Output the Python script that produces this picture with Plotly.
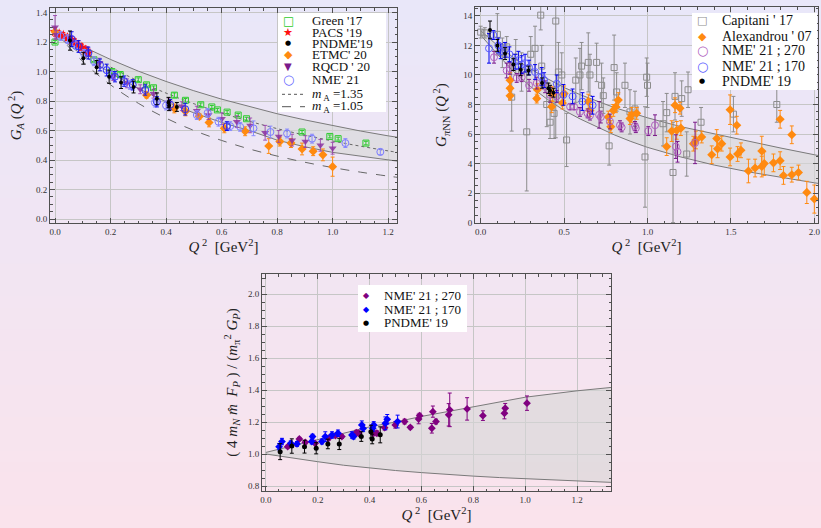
import plotly.graph_objects as go

# ---------------- Panel 1 : G_A(Q^2) ----------------
band1_q = [0.0, 0.1, 0.2, 0.3, 0.4, 0.5, 0.6, 0.7, 0.8, 0.9, 1.0, 1.1, 1.2, 1.232]
band1_hi = [1.27, 1.170, 1.082, 1.003, 0.933, 0.870, 0.813, 0.761, 0.714, 0.672, 0.633, 0.597, 0.564, 0.555]
band1_lo = [1.25, 1.11, 0.99, 0.885, 0.795, 0.72, 0.655, 0.60, 0.535, 0.49, 0.452, 0.425, 0.40, 0.393]

dip135_g = [1.27, 1.141, 1.031, 0.936, 0.854, 0.782, 0.719, 0.663, 0.613, 0.569, 0.529, 0.494, 0.462, 0.453]
dip105_g = [1.27, 1.068, 0.910, 0.785, 0.684, 0.601, 0.533, 0.475, 0.427, 0.385, 0.349, 0.318, 0.291, 0.283]

green_q = [0.0, 0.14, 0.205, 0.235, 0.30, 0.33, 0.355, 0.43, 0.47, 0.525, 0.565, 0.585, 0.62, 0.66, 0.69, 0.89, 0.99, 1.02, 1.12]
green_g = [1.20, 1.08, 1.00, 0.98, 0.945, 0.91, 0.89, 0.84, 0.805, 0.775, 0.76, 0.74, 0.725, 0.705, 0.68, 0.59, 0.56, 0.545, 0.515]
green_e = [0.01, 0.012, 0.012, 0.012, 0.012, 0.012, 0.012, 0.015, 0.012, 0.012, 0.01, 0.01, 0.01, 0.01, 0.01, 0.01, 0.01, 0.01, 0.012]

pacs_q = [0.0, 0.015, 0.03, 0.045, 0.06, 0.072, 0.084, 0.097, 0.11, 0.12]
pacs_g = [1.27, 1.255, 1.245, 1.23, 1.215, 1.20, 1.18, 1.165, 1.145, 1.125]
pacs_e = [0.03, 0.02, 0.02, 0.02, 0.02, 0.02, 0.02, 0.02, 0.02, 0.02]

pndme1_q = [0.054, 0.102, 0.150, 0.195, 0.238, 0.283, 0.367, 0.409, 0.411, 0.439]
pndme1_g = [1.21, 1.09, 1.03, 0.965, 0.925, 0.895, 0.815, 0.79, 0.77, 0.76]
pndme1_e = [0.065, 0.04, 0.045, 0.045, 0.04, 0.04, 0.04, 0.035, 0.035, 0.03]

etmc_q = [0.0, 0.33, 0.43, 0.47, 0.52, 0.555, 0.61, 0.685, 0.77, 0.81, 0.85, 0.89, 0.93, 0.965, 1.0]
etmc_g = [1.27, 0.84, 0.75, 0.73, 0.695, 0.655, 0.615, 0.595, 0.495, 0.525, 0.515, 0.475, 0.46, 0.435, 0.355]
etmc_e = [0.02, 0.02, 0.03, 0.03, 0.02, 0.03, 0.03, 0.03, 0.05, 0.03, 0.03, 0.04, 0.03, 0.04, 0.065]

rqcd_q = [0.0, 0.005, 0.06, 0.117, 0.16, 0.21, 0.259, 0.307, 0.355, 0.41, 0.457, 0.511, 0.553, 0.601, 0.655, 0.703, 0.757, 0.806, 0.854, 0.902, 0.956, 1.0]
rqcd_g = [1.30, 1.25, 1.21, 1.14, 1.06, 0.97, 0.92, 0.88, 0.85, 0.79, 0.765, 0.735, 0.705, 0.68, 0.66, 0.635, 0.585, 0.56, 0.535, 0.525, 0.50, 0.48]
rqcd_e = [0.08, 0.03, 0.03, 0.03, 0.03, 0.03, 0.03, 0.03, 0.03, 0.03, 0.03, 0.03, 0.03, 0.04, 0.04, 0.05, 0.05, 0.04, 0.04, 0.04, 0.04, 0.04]

nmeA_q = [0.06, 0.085, 0.12, 0.162, 0.186, 0.216, 0.249, 0.28, 0.325, 0.367, 0.415, 0.469, 0.619]
nmeA_g = [1.22, 1.17, 1.125, 1.045, 1.01, 0.965, 0.935, 0.91, 0.875, 0.795, 0.775, 0.745, 0.63]
nmeA_e = [0.05, 0.04, 0.04, 0.04, 0.04, 0.035, 0.035, 0.035, 0.035, 0.035, 0.035, 0.04, 0.03]

nmeB_q = [0.02, 0.045, 0.075, 0.105, 0.14, 0.2, 0.27, 0.36, 0.40, 0.511, 0.55, 0.589, 0.631, 0.667, 0.715, 0.776, 0.836, 0.926, 1.046, 1.172]
nmeB_g = [1.24, 1.22, 1.18, 1.12, 1.07, 0.98, 0.91, 0.79, 0.77, 0.705, 0.72, 0.66, 0.63, 0.625, 0.615, 0.59, 0.58, 0.545, 0.515, 0.455]
nmeB_e = [0.03, 0.03, 0.03, 0.03, 0.03, 0.03, 0.03, 0.03, 0.03, 0.03, 0.03, 0.03, 0.03, 0.03, 0.05, 0.04, 0.03, 0.03, 0.03, 0.02]

# ---------------- Panel 2 : G_piNN(Q^2) ----------------
band2_q = [0.0, 0.1, 0.2, 0.3, 0.4, 0.5, 0.6, 0.7, 0.8, 0.9, 1.0, 1.2, 1.4, 1.6, 1.8, 2.0, 2.022]
band2_hi = [13.0, 12.0, 11.15, 10.4, 9.75, 9.15, 8.65, 8.2, 7.8, 7.45, 7.1, 6.5, 6.0, 5.5, 5.05, 4.6, 4.55]
band2_lo = [12.7, 11.4, 10.2, 9.2, 8.35, 7.6, 7.0, 6.45, 5.95, 5.5, 5.1, 4.45, 3.9, 3.45, 3.05, 2.7, 2.66]

cap_q = [0.0, 0.025, 0.10, 0.13, 0.156, 0.186, 0.21, 0.245, 0.276, 0.30, 0.326, 0.36, 0.366, 0.396, 0.416, 0.44, 0.45, 0.466, 0.486, 0.515, 0.57, 0.595, 0.605, 0.645, 0.655, 0.695, 0.725, 0.735, 0.77, 0.80, 0.815, 0.865, 0.895, 0.925, 0.985, 0.995, 1.0, 1.093, 1.115, 1.153, 1.165, 1.205, 1.235, 1.243, 1.321, 1.515, 1.775]
cap_g = [12.9, 12.85, 12.75, 11.5, 11.9, 8.5, 11.2, 10.2, 6.15, 11.4, 11.8, 14.05, 10.6, 8.0, 6.8, 7.4, 13.65, 10.2, 10.0, 5.6, 9.65, 10.0, 10.6, 10.85, 10.0, 10.85, 9.3, 8.6, 5.2, 10.5, 8.85, 9.3, 7.5, 7.7, 4.45, 9.85, 9.3, 6.7, 7.45, 3.4, 8.55, 8.4, 4.65, 9.0, 6.8, 7.35, 8.0]
cap_e = [0.4, 0.35, 1.4, 1.0, 0.7, 2.3, 1.2, 1.3, 4.0, 1.2, 1.5, 1.0, 1.4, 1.5, 1.1, 1.7, 7.9, 2.0, 1.5, 1.8, 1.5, 1.8, 1.6, 2.0, 1.4, 1.3, 1.5, 1.2, 1.3, 2.2, 1.3, 1.5, 1.5, 1.2, 3.4, 1.3, 1.5, 1.5, 1.3, 3.4, 1.6, 1.2, 1.5, 1.2, 1.0, 1.2, 1.2]

alex_q = [0.176, 0.176, 0.176, 0.336, 0.34, 0.426, 0.43, 0.49, 0.50, 0.645, 0.655, 0.765, 0.78, 0.795, 0.81, 0.825, 0.895, 0.905, 0.935, 1.115, 1.145, 1.165, 1.175, 1.195, 1.20, 1.275, 1.29, 1.325, 1.385, 1.415, 1.42, 1.445, 1.495, 1.495, 1.535, 1.54, 1.56, 1.605, 1.645, 1.685, 1.685, 1.70, 1.755, 1.795, 1.795, 1.815, 1.865, 1.865, 1.905, 1.955, 2.0]
alex_g = [9.65, 9.1, 8.6, 8.4, 9.0, 7.85, 8.7, 8.1, 8.75, 8.2, 7.6, 7.15, 6.5, 7.6, 7.85, 8.3, 7.05, 7.3, 7.4, 5.15, 6.2, 7.95, 6.25, 7.75, 6.4, 5.35, 5.6, 5.8, 4.6, 5.7, 5.0, 5.35, 7.65, 4.45, 6.6, 4.65, 4.9, 3.5, 3.7, 4.85, 3.8, 4.0, 4.05, 4.2, 7.0, 3.2, 5.95, 3.25, 3.4, 2.05, 1.6]
alex_e = [0.5, 0.4, 0.3, 0.3, 0.4, 0.4, 0.5, 0.4, 0.5, 0.5, 0.4, 0.4, 0.4, 0.4, 0.4, 0.5, 0.4, 0.5, 0.4, 0.6, 0.7, 0.5, 0.6, 0.4, 0.5, 0.5, 0.6, 0.4, 0.6, 0.6, 0.6, 0.5, 1.0, 0.6, 0.6, 0.5, 0.5, 0.8, 0.6, 1.0, 0.7, 0.8, 0.6, 0.6, 0.6, 0.6, 0.6, 0.5, 0.5, 0.75, 0.95]

n270b_q = [0.08, 0.156, 0.175, 0.216, 0.246, 0.29, 0.336, 0.386, 0.416, 0.456, 0.536, 0.56, 0.595, 0.641, 0.655, 0.71, 0.72, 0.775, 0.835, 0.845, 0.925, 0.93, 1.005, 1.045, 1.17, 1.18, 1.285]
n270b_g = [11.2, 10.3, 10.45, 9.8, 9.85, 9.3, 9.45, 9.2, 8.65, 8.55, 7.85, 7.85, 7.5, 7.4, 7.25, 7.3, 7.15, 6.85, 6.6, 6.45, 6.55, 6.4, 6.2, 6.6, 5.15, 4.8, 5.4]
n270b_e = [0.4, 0.5, 0.4, 0.3, 0.3, 0.4, 0.4, 0.4, 0.5, 0.4, 0.2, 0.2, 0.3, 0.3, 0.3, 0.9, 0.4, 0.5, 0.3, 0.3, 0.3, 0.3, 0.3, 0.7, 0.8, 0.7, 1.4]

n170b_q = [0.05, 0.076, 0.106, 0.12, 0.146, 0.172, 0.206, 0.226, 0.246, 0.266, 0.29, 0.326, 0.366, 0.38, 0.456, 0.496, 0.551, 0.61, 0.671]
n170b_g = [11.8, 12.7, 12.0, 11.6, 11.7, 11.4, 10.9, 11.0, 10.7, 10.8, 10.5, 10.2, 9.9, 9.65, 9.4, 8.65, 8.55, 8.2, 7.95]
n170b_e = [1.0, 0.3, 0.5, 0.5, 0.5, 0.5, 0.5, 0.6, 0.6, 0.6, 0.5, 0.5, 0.6, 0.5, 0.6, 0.7, 0.5, 0.6, 0.6]

pndme2_q = [0.056, 0.10, 0.146, 0.196, 0.24, 0.286, 0.368, 0.406, 0.416, 0.436]
pndme2_g = [13.05, 12.0, 11.45, 10.7, 10.35, 10.3, 9.45, 9.1, 8.95, 8.8]
pndme2_e = [0.6, 0.4, 0.4, 0.4, 0.4, 0.3, 0.35, 0.35, 0.35, 0.3]

# ---------------- Panel 3 : ratio ----------------
band3_q = [0.0, 0.1, 0.2, 0.3, 0.4, 0.5, 0.6, 0.7, 0.8, 0.9, 1.0, 1.1, 1.2, 1.331]
band3_hi = [1.01, 1.05, 1.09, 1.13, 1.17, 1.20, 1.235, 1.265, 1.295, 1.325, 1.355, 1.375, 1.395, 1.416]
band3_lo = [1.00, 0.975, 0.952, 0.93, 0.912, 0.897, 0.884, 0.872, 0.862, 0.853, 0.846, 0.839, 0.832, 0.823]

n270c_q = [0.084, 0.129, 0.152, 0.19, 0.242, 0.268, 0.293, 0.349, 0.358, 0.415, 0.428, 0.458, 0.499, 0.535, 0.557, 0.589, 0.593, 0.64, 0.644, 0.656, 0.705, 0.709, 0.776, 0.837, 0.92, 0.923, 1.007]
n270c_g = [1.046, 1.094, 1.073, 1.067, 1.098, 1.115, 1.109, 1.134, 1.13, 1.13, 1.13, 1.165, 1.182, 1.203, 1.167, 1.219, 1.24, 1.161, 1.265, 1.203, 1.245, 1.276, 1.282, 1.24, 1.255, 1.286, 1.318]
n270c_e = [0.01, 0.01, 0.01, 0.01, 0.012, 0.012, 0.012, 0.015, 0.015, 0.015, 0.015, 0.015, 0.02, 0.015, 0.01, 0.03, 0.015, 0.03, 0.035, 0.015, 0.07, 0.105, 0.07, 0.03, 0.035, 0.03, 0.045]

n170c_q = [0.051, 0.062, 0.096, 0.12, 0.177, 0.18, 0.216, 0.229, 0.255, 0.278, 0.332, 0.338, 0.37, 0.375, 0.412, 0.416, 0.461, 0.468, 0.508]
n170c_g = [1.046, 1.078, 1.067, 1.063, 1.078, 1.109, 1.078, 1.109, 1.119, 1.13, 1.119, 1.109, 1.182, 1.16, 1.161, 1.182, 1.192, 1.217, 1.203]
n170c_e = [0.02, 0.02, 0.015, 0.015, 0.015, 0.015, 0.015, 0.03, 0.02, 0.02, 0.02, 0.015, 0.025, 0.02, 0.02, 0.02, 0.04, 0.03, 0.04]

pndme3_q = [0.055, 0.10, 0.149, 0.194, 0.239, 0.283, 0.368, 0.405, 0.41, 0.441]
pndme3_g = [1.015, 1.05, 1.046, 1.036, 1.063, 1.063, 1.109, 1.14, 1.094, 1.12]
pndme3_e = [0.05, 0.045, 0.04, 0.035, 0.03, 0.035, 0.03, 0.04, 0.03, 0.05]

# legend labels
leg1_names = ["Green '17", "PACS '19", "PNDME'19", "ETMC' 20", "RQCD ' 20", "NME' 21",
              "<i>m</i><sub> A</sub> =1.35", "<i>m</i><sub> A</sub> =1.05"]
leg2_names = ["Capitani ' 17", "Alexandrou ' 07", "NME' 21 ; 270", "NME' 21 ; 170", "PNDME' 19"]
leg3_names = ["NME' 21 ; 270", "NME' 21 ; 170", "PNDME' 19"]

FONT = "Liberation Serif"
GLYPH_FONT = "DejaVu Sans"
W, H = 821, 528

fig = go.Figure()


def band(q, hi, lo, xa, ya):
    fig.add_trace(go.Scatter(x=q, y=hi, mode="lines", line=dict(color="#7a7a7a", width=1),
                             showlegend=False, hoverinfo="skip", xaxis=xa, yaxis=ya))
    fig.add_trace(go.Scatter(x=q, y=lo, mode="lines", line=dict(color="#7a7a7a", width=1),
                             fill="tonexty", fillcolor="rgba(215,215,215,0.62)",
                             showlegend=False, hoverinfo="skip", xaxis=xa, yaxis=ya))


def pts(q, g, e, name, symbol, mcolor, ecolor, size, xa, ya, lw=1):
    fig.add_trace(go.Scatter(
        x=q, y=g, mode="markers", name=name, showlegend=False,
        marker=dict(symbol=symbol, color=mcolor, size=size, line=dict(color=mcolor, width=lw)),
        error_y=dict(type="data", array=e, color=ecolor, thickness=1, width=2),
        xaxis=xa, yaxis=ya))


# Panel 1
band(band1_q, band1_hi, band1_lo, "x", "y")
fig.add_trace(go.Scatter(x=band1_q, y=dip135_g, mode="lines", name="m_A=1.35", showlegend=False,
                         line=dict(color="#666", width=1, dash="dot", shape="spline"), xaxis="x", yaxis="y"))
fig.add_trace(go.Scatter(x=band1_q, y=dip105_g, mode="lines", name="m_A=1.05", showlegend=False,
                         line=dict(color="#666", width=1, dash="dash", shape="spline"), xaxis="x", yaxis="y"))
pts(green_q, green_g, green_e, leg1_names[0], "square-open", "#2ecc2e", "#2ecc2e", 6, "x", "y")
pts(pacs_q, pacs_g, pacs_e, leg1_names[1], "star", "#ff1010", "#ff1010", 8, "x", "y", lw=0)
pts(etmc_q, etmc_g, etmc_e, leg1_names[3], "diamond", "#ff8a10", "#ff8a10", 7, "x", "y", lw=0)
pts(rqcd_q, rqcd_g, rqcd_e, leg1_names[4], "triangle-down", "rgba(140,50,160,0.85)", "rgba(150,60,170,0.85)", 7, "x", "y", lw=0)
pts(nmeB_q, nmeB_g, nmeB_e, leg1_names[5], "circle-open", "#7a7aff", "#8a8aff", 7, "x", "y")
pts(nmeA_q, nmeA_g, nmeA_e, leg1_names[5], "circle-open", "#2a2aff", "#1010ee", 7, "x", "y")
pts(pndme1_q, pndme1_g, pndme1_e, leg1_names[2], "circle", "#000000", "#000000", 4, "x", "y", lw=0)

# Panel 2
band(band2_q, band2_hi, band2_lo, "x2", "y2")
pts(cap_q, cap_g, cap_e, leg2_names[0], "square-open", "#8c8c8c", "#8c8c8c", 6, "x2", "y2")
pts(alex_q, alex_g, alex_e, leg2_names[1], "diamond", "#ff8a10", "#ff8a10", 7, "x2", "y2", lw=0)
pts(n270b_q, n270b_g, n270b_e, leg2_names[2], "circle-open", "#b060c0", "#7a1a8a", 7, "x2", "y2")
pts(n170b_q, n170b_g, n170b_e, leg2_names[3], "circle-open", "#5a5aff", "#0000ee", 7, "x2", "y2")
pts(pndme2_q, pndme2_g, pndme2_e, leg2_names[4], "circle", "#000000", "#000000", 4, "x2", "y2", lw=0)

# Panel 3
band(band3_q, band3_hi, band3_lo, "x3", "y3")
pts(n270c_q, n270c_g, n270c_e, leg3_names[0], "diamond", "#800080", "#800080", 6, "x3", "y3", lw=0)
pts(n170c_q, n170c_g, n170c_e, leg3_names[1], "diamond", "#0000ff", "#0000ff", 6, "x3", "y3", lw=0)
pts(pndme3_q, pndme3_g, pndme3_e, leg3_names[2], "circle", "#000000", "#000000", 5, "x3", "y3", lw=0)

# background gradient (styling only)
top = (233, 231, 249)
bot = (250, 227, 236)
N = 48
shapes = []
for i in range(N):
    t = i / (N - 1)
    c = tuple(round(top[k] + (bot[k] - top[k]) * t) for k in range(3))
    shapes.append(dict(type="rect", xref="paper", yref="paper", x0=0, x1=1,
                       y0=1 - (i + 1) / N, y1=1 - i / N + 0.001, line=dict(width=0),
                       fillcolor="rgb(%d,%d,%d)" % c, layer="below"))

annotations = []


def px(x):
    return x / W


def py(y):
    return 1 - y / H


def legend_box(x0, y0, x1, y1, gx, tx, rows, names, glyphs, fsize):
    shapes.append(dict(type="rect", xref="paper", yref="paper", x0=px(x0), x1=px(x1),
                       y0=py(y1), y1=py(y0), line=dict(width=0), fillcolor="white", layer="above"))
    for ry, name, gl in zip(rows, names, glyphs):
        sym, col, gs = gl
        if sym in ("dot", "dash"):
            shapes.append(dict(type="line", xref="paper", yref="paper", x0=px(gx - 6), x1=px(gx + 17),
                               y0=py(ry), y1=py(ry), line=dict(color="#555", width=1, dash=sym),
                               layer="above"))
        else:
            annotations.append(dict(x=px(gx), y=py(ry), xref="paper", yref="paper", text=sym,
                                    showarrow=False, xanchor="center", yanchor="middle",
                                    font=dict(family=GLYPH_FONT, size=gs, color=col)))
        annotations.append(dict(x=px(tx), y=py(ry), xref="paper", yref="paper", text=name,
                                showarrow=False, xanchor="left", yanchor="middle",
                                font=dict(family=FONT, size=fsize, color="#111")))


legend_box(278, 13, 386, 112, 288, 310,
           [20.7, 32.3, 43.3, 54.5, 66.7, 79, 94.3, 106.7], leg1_names,
           [("□", "#2ecc2e", 12), ("★", "#ff1010", 11), ("●", "#000000", 7), ("◆", "#ff8a10", 11),
            ("▼", "#7b1a8a", 10), ("○", "#6a6aff", 13), ("dot", None, None), ("dash", None, None)],
           13)
legend_box(692, 13, 817, 90, 702, 720,
           [20.7, 36.7, 51, 66, 81], leg2_names,
           [("□", "#8c8c8c", 11), ("◆", "#ff8a10", 11), ("○", "#b060c0", 13), ("○", "#5a5aff", 13),
            ("●", "#000000", 7)],
           14)
legend_box(358, 285, 467, 332, 366, 382,
           [295, 309.3, 322.7], leg3_names,
           [("◆", "#800080", 8), ("◆", "#0000ff", 8), ("●", "#000000", 7)],
           13)


def ax(domain, rng, dtick, mdtick, title, fmt, standoff, anchor):
    return dict(domain=domain, range=rng, dtick=dtick, tick0=0, tickformat=fmt,
                showline=True, linecolor="#505050", linewidth=1, mirror="allticks",
                ticks="inside", ticklen=5, tickcolor="#505050",
                minor=dict(dtick=mdtick, ticks="inside", ticklen=2.5, tickcolor="#505050", showgrid=False),
                showgrid=True, gridcolor="#c6c6c6", gridwidth=1, zeroline=False,
                tickfont=dict(family=FONT, size=9, color="#333"),
                title=dict(text=title, font=dict(family=FONT, size=15, color="#222"), standoff=standoff),
                anchor=anchor, automargin=False)


xt = "<i>Q</i><sup> 2</sup>  [GeV<sup>2</sup>]"
fig.update_layout(
    width=W, height=H, margin=dict(l=0, r=0, t=0, b=0),
    paper_bgcolor="rgb(241,229,243)", plot_bgcolor="rgba(0,0,0,0)",
    font=dict(family=FONT, color="#222"),
    shapes=shapes, annotations=annotations, showlegend=False,
    xaxis=ax([50 / W, 397 / W], [-0.018, 1.232], 0.2, 0.05, xt, ".1f", 4, "y"),
    yaxis=ax([1 - 223 / H, 1 - 8 / H], [-0.027, 1.431], 0.2, 0.05,
             "<i>G<sub>A</sub></i> (<i>Q</i><sup> 2</sup>)", ".1f", 10, "x"),
    xaxis2=ax([475 / W, 818 / W], [-0.034, 2.022], 0.5, 0.1, xt, ".1f", 4, "y2"),
    yaxis2=ax([1 - 223 / H, 1 - 7 / H], [-0.02, 14.6], 2, 0.5,
              "<i>G<sub>π</sub></i><sub>NN</sub> (<i>Q</i><sup> 2</sup>)", "d", 12, "x2"),
    xaxis3=ax([262 / W, 611 / W], [-0.015, 1.331], 0.2, 0.05, xt, ".1f", 3, "y3"),
    yaxis3=ax([1 - 491 / H, 1 - 274 / H], [0.769, 2.125], 0.2, 0.05,
              "( 4 <i>m<sub>N</sub></i> <i>m̂</i>  <i>F<sub>P</sub></i> ) / (<i>m</i><sub>π</sub><sup>2</sup> <i>G<sub>P</sub></i>)",
              ".1f", 6, "x3"),
)

fig.write_html("out.html", config={"displayModeBar": False, "staticPlot": True},
               post_script="document.body.style.margin='0';document.body.style.overflow='hidden';")
